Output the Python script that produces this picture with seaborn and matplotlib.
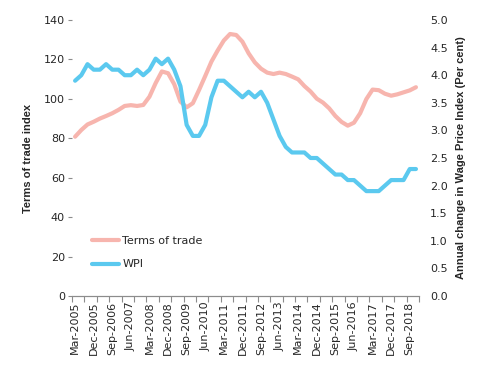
import pandas as pd
import numpy as np
import matplotlib
matplotlib.use('Agg')
import matplotlib.pyplot as plt
import seaborn as sns

# quarterly data, Mar-2005 .. Dec-2018
months = ['Mar', 'Jun', 'Sep', 'Dec']
quarters = [f'{m}-{y}' for y in range(2005, 2019) for m in months]

terms_of_trade = [80.8, 84.2, 87.0, 88.4, 90.0, 91.3, 92.7, 94.4, 96.4, 96.8,
                  96.4, 96.9, 101.1, 108.0, 113.9, 113.0, 107.4, 98.6, 95.7, 97.8,
                  104.5, 111.6, 118.9, 124.5, 129.6, 132.9, 132.4, 129.0, 123.1, 118.5,
                  115.3, 113.3, 112.6, 113.3, 112.6, 111.3, 109.9, 106.5, 103.7, 100.1,
                  98.1, 95.2, 91.3, 88.3, 86.4, 87.9, 92.7, 99.9, 104.7, 104.4,
                  102.6, 101.6, 102.3, 103.3, 104.3, 105.9]

wpi = [3.9, 4.0, 4.2, 4.1, 4.1, 4.2, 4.1, 4.1, 4.0, 4.0,
       4.1, 4.0, 4.1, 4.3, 4.2, 4.3, 4.1, 3.8, 3.1, 2.9,
       2.9, 3.1, 3.6, 3.9, 3.9, 3.8, 3.7, 3.6, 3.7, 3.6,
       3.7, 3.5, 3.2, 2.9, 2.7, 2.6, 2.6, 2.6, 2.5, 2.5,
       2.4, 2.3, 2.2, 2.2, 2.1, 2.1, 2.0, 1.9, 1.9, 1.9,
       2.0, 2.1, 2.1, 2.1, 2.3, 2.3]

df = pd.DataFrame({'quarter': quarters, 'tot': terms_of_trade, 'wpi': wpi})
df['pos'] = np.arange(len(df)) + 0.5

sns.set_style('white')
plt.rcParams['font.family'] = ['DejaVu Sans']

pink = '#F7B5AE'
blue = '#5BC9EF'
grey = '#8C8C8C'

fig, ax = plt.subplots(figsize=(4.8, 3.67), dpi=100)
fig.subplots_adjust(left=0.15, right=0.873, top=0.9455, bottom=0.1935)
ax2 = ax.twinx()

sns.lineplot(data=df, x='pos', y='tot', ax=ax, color=pink, linewidth=3,
             label='Terms of trade', legend=False)
sns.lineplot(data=df, x='pos', y='wpi', ax=ax2, color=blue, linewidth=3,
             label='WPI', legend=False)

ax.set_xlim(0, len(df))
ax.set_ylim(0, 140)
ax.set_yticks(range(0, 141, 20))
ax2.set_ylim(0, 5)
ax2.set_yticks(np.arange(0, 5.01, 0.5))
ax2.set_yticklabels([f'{v:.1f}' for v in np.arange(0, 5.01, 0.5)])

# x ticks: marks every 2 quarters, labels every 3 quarters
ax.set_xticks(np.arange(0, len(df) + 1, 2))
ax.set_xticklabels([])
lab_pos = df['pos'][::3]
ax.set_xticks(lab_pos, minor=True)
ax.set_xticklabels(df['quarter'][::3], minor=True, rotation=90, fontsize=8)
ax.tick_params(axis='x', which='major', length=4, color=grey, direction='out', bottom=True)
ax.tick_params(axis='x', which='minor', length=0, pad=4)

ax.tick_params(axis='y', length=3, color=grey, labelsize=8, left=True, pad=2)
ax2.tick_params(axis='y', length=0, labelsize=8, pad=8)

for a in (ax, ax2):
    for s in ['top', 'left', 'right']:
        a.spines[s].set_visible(False)
    a.spines['bottom'].set_color(grey)
    a.spines['bottom'].set_linewidth(0.8)
    a.set_xlabel('')

ax.set_ylabel('Terms of trade index', fontsize=8, fontweight='bold',
              family='Liberation Sans', labelpad=8)
ax2.set_ylabel('Annual change in Wage Price Index (Per cent)', fontsize=8,
               fontweight='bold', family='Liberation Sans', labelpad=6)

h1, l1 = ax.get_legend_handles_labels()
h2, l2 = ax2.get_legend_handles_labels()
ax.legend(h1 + h2, l1 + l2, loc='lower left', bbox_to_anchor=(0.03, 0.06),
          frameon=False, fontsize=8, handlelength=2.4, handletextpad=0.3,
          labelspacing=1.2)

plt.savefig('out.png', dpi=100)
